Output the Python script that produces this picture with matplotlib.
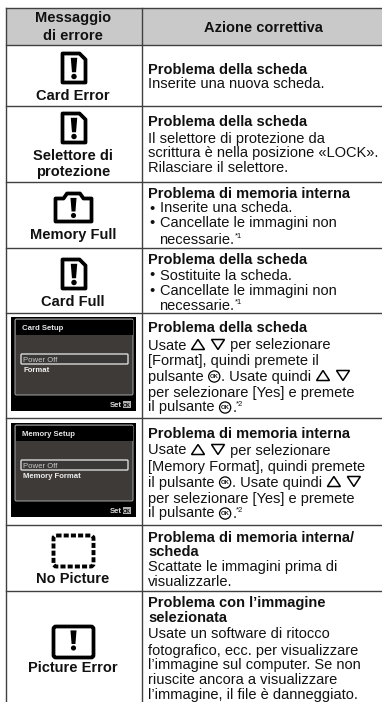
import matplotlib
matplotlib.use("Agg")
import matplotlib.pyplot as plt
from matplotlib.patches import Rectangle, FancyBboxPatch, Polygon, Circle

plt.rcParams["font.family"] = ["Liberation Sans", "DejaVu Sans"]

W, H = 382, 702
FONT = 10.5
INK = "#111111"

header_left = ["Messaggio", "di errore"]
header_right = "Azione correttiva"

left_labels = [
    ["Card Error"],
    ["Selettore di", "protezione"],
    ["Memory Full"],
    ["Card Full"],
    [],
    [],
    ["No Picture"],
    ["Picture Error"],
]
icons = ["card", "card", "memory", "card", "screen", "screen", "dashed", "picture"]
screen_titles = {4: "Card Setup", 5: "Memory Setup"}
screen_items = {4: "Format", 5: "Memory Format"}

# (bold?, text) - |up| |down| |ok| |s1| |s2| are inline symbols, "- " is a bullet
rows = [
    [(1, "Problema della scheda"), (0, "Inserite una nuova scheda.")],
    [(1, "Problema della scheda"), (0, "Il selettore di protezione da"),
     (0, "scrittura è nella posizione «LOCK»."), (0, "Rilasciare il selettore.")],
    [(1, "Problema di memoria interna"), (0, "- Inserite una scheda."),
     (0, "- Cancellate le immagini non"), (0, "  necessarie.|s1|")],
    [(1, "Problema della scheda"), (0, "- Sostituite la scheda."),
     (0, "- Cancellate le immagini non"), (0, "  necessarie.|s1|")],
    [(1, "Problema della scheda"), (0, "Usate |up||down| per selezionare"),
     (0, "[Format], quindi premete il"), (0, "pulsante |ok|. Usate quindi |up||down|"),
     (0, "per selezionare [Yes] e premete"), (0, "il pulsante |ok|.|s2|")],
    [(1, "Problema di memoria interna"), (0, "Usate |up||down| per selezionare"),
     (0, "[Memory Format], quindi premete"), (0, "il pulsante |ok|. Usate quindi |up||down|"),
     (0, "per selezionare [Yes] e premete"), (0, "il pulsante |ok|.|s2|")],
    [(1, "Problema di memoria interna/"), (1, "scheda"),
     (0, "Scattate le immagini prima di"), (0, "visualizzarle.")],
    [(1, "Problema con l’immagine"), (1, "selezionata"),
     (0, "Usate un software di ritocco"), (0, "fotografico, ecc. per visualizzare"),
     (0, "l’immagine sul computer. Se non"), (0, "riuscite ancora a visualizzare"),
     (0, "l’immagine, il file è danneggiato.")],
]

# layout, in image pixels
row_lines = [45, 106, 182, 248, 313, 418, 525, 591]
line_y = [
    [69, 84],
    [122, 138, 153, 168],
    [193, 208, 223, 239],
    [259, 275, 290, 305],
    [328, 345, 361, 376, 392, 407],
    [434, 450, 466, 482, 498, 513],
    [537, 552, 567, 582],
    [602, 617, 634, 650, 665, 680, 695],
]
icon_y = [68, 128, 207.5, 274, 364, 470, 551, 642]
label_y = [[95], [155, 171], [234], [301], [], [], [578], [667]]

fig = plt.figure(figsize=(W / 100, H / 100), dpi=100)
ax = fig.add_axes([0, 0, 1, 1])
ax.set_xlim(0, W)
ax.set_ylim(H, 0)
ax.axis("off")

LW = 2.7


def bang(cx, cy, s):
    ax.add_patch(Polygon([(cx - 3.8 * s, cy - 12 * s), (cx + 3.8 * s, cy - 12 * s),
                          (cx + 2.4 * s, cy + 5 * s), (cx - 2.4 * s, cy + 5 * s)],
                         closed=True, fc="black", ec="none"))
    ax.add_patch(Circle((cx, cy + 10 * s), 3.2 * s, fc="black", ec="none"))


def card(cx, cy):
    x0, x1, y0, y1 = cx - 11.5, cx + 11.5, cy - 14.5, cy + 14.5
    ax.add_patch(Polygon([(x0, y0), (x1 - 6, y0), (x1, y0 + 6), (x1, y1), (x0, y1)],
                         closed=True, fill=False, ec="black", lw=LW, joinstyle="round"))
    bang(cx, cy, 0.85)


def memory(cx, cy):
    pts = [(cx - 18, cy + 14), (cx - 18, cy - 9), (cx - 10, cy - 9), (cx - 6.5, cy - 14),
           (cx + 6.5, cy - 14), (cx + 10, cy - 9), (cx + 18, cy - 9), (cx + 18, cy + 14)]
    ax.add_patch(Polygon(pts, closed=True, fill=False, ec="black", lw=LW, joinstyle="round"))
    bang(cx, cy, 0.8)


def dashed(cx, cy):
    ax.add_patch(FancyBboxPatch((cx - 20, cy - 15.5), 40, 31, boxstyle="round,pad=0,rounding_size=3",
                                fill=False, ec="black", lw=2.8, ls=(0, (1.3, 0.55))))


def picture(cx, cy):
    ax.add_patch(FancyBboxPatch((cx - 20, cy - 15.5), 40, 31, boxstyle="round,pad=0,rounding_size=2.5",
                                fill=False, ec="black", lw=LW))
    bang(cx, cy - 2, 0.8)


def screen(i, cy):
    x0, x1, y0, y1 = 11, 136, cy - 47, cy + 47
    ax.add_patch(Rectangle((x0, y0), x1 - x0, y1 - y0, fc="black", ec="none"))
    ax.add_patch(FancyBboxPatch((15, y0 + 2), 118, 76, boxstyle="round,pad=0,rounding_size=1.5",
                                fc="#3e3a38", ec="#a8a8a8", lw=0.7))
    ax.add_patch(Rectangle((15.5, y0 + 2.5), 117, 15, fc="black", ec="none"))
    ax.add_patch(FancyBboxPatch((21, y0 + 37), 107, 10, boxstyle="round,pad=0,rounding_size=1",
                                fc="#3a3836", ec="#d8d8d8", lw=1.0))
    ax.text(22, y0 + 13, screen_titles[i], color="#e6e6e6", fontsize=5.6, fontweight="bold")
    ax.text(23, y0 + 44.5, "Power Off", color="#c8c8c8", fontsize=5.6)
    ax.text(23, y0 + 55.5, screen_items[i], color="#eeeeee", fontsize=5.6, fontweight="bold")
    ax.text(110, y0 + 90, "Set", color="#d8d8d8", fontsize=5.6, fontweight="bold")
    ax.add_patch(Rectangle((123, y0 + 84), 8, 6.5, fc="#b0b0b0", ec="none"))
    ax.text(127, y0 + 89.6, "OK", color="black", fontsize=3.8, ha="center", fontweight="bold")


def draw_line(x, y, text, bold):
    # lay the line out token by token, measuring each text piece
    renderer = fig.canvas.get_renderer()
    base = y + 4.5
    weight = "bold" if bold else "normal"
    if text.startswith("- "):
        ax.text(x + 1, base, "•", fontsize=FONT, color=INK, va="baseline")
        x += 11.5
        text = text[2:]
    elif text.startswith("  "):
        x += 11.5
        text = text[2:]
    parts = text.split("|")
    for n, part in enumerate(parts):
        if n % 2 == 0:
            if part:
                t = ax.text(x, base, part, fontsize=FONT, fontweight=weight, color=INK, va="baseline")
                x += t.get_window_extent(renderer).width
        elif part == "up":
            ax.add_patch(Polygon([(x + 1, base), (x + 14, base), (x + 7.5, base - 10)], closed=True,
                                 fill=False, ec="black", lw=1.1))
            x += 20
        elif part == "down":
            ax.add_patch(Polygon([(x + 1, base - 10), (x + 14, base - 10), (x + 7.5, base)], closed=True,
                                 fill=False, ec="black", lw=1.1))
            x += 15
        elif part == "ok":
            ax.add_patch(Circle((x + 6.5, base - 4), 5.6, fill=False, ec="black", lw=0.9))
            ax.text(x + 6.5, base - 2.4, "OK", fontsize=4.2, fontweight="bold", ha="center", color=INK)
            x += 13.5
        else:
            ax.text(x, base - 5, "*" + part[1], fontsize=5.5, color=INK, va="baseline")


# header band
ax.add_patch(Rectangle((5.5, 7.5), W, 37.5, fc="#c9c9c9", ec="none"))
for i, s in enumerate(header_left):
    ax.text(73, [22, 40][i], s, fontsize=FONT, fontweight="bold", ha="center", va="baseline", color=INK)
ax.text(263, 32, header_right, fontsize=FONT, fontweight="bold", ha="center", va="baseline", color=INK)

for i, kind in enumerate(icons):
    cy = icon_y[i]
    if kind == "card":
        card(74, cy)
    elif kind == "memory":
        memory(73.5, cy)
    elif kind == "dashed":
        dashed(73.5, cy)
    elif kind == "picture":
        picture(73.5, cy)
    else:
        screen(i, cy)
    for s, y in zip(left_labels[i], label_y[i]):
        ax.text(73, y + 5, s, fontsize=FONT, fontweight="bold", ha="center", va="baseline", color=INK)
    for (bold, s), y in zip(rows[i], line_y[i]):
        draw_line(148, y, s, bold)

# rules
ax.plot([5.5, W], [7.5, 7.5], color="#404040", lw=1.0)
ax.plot([5.5, 5.5], [7.5, H], color="#404040", lw=1.0)
ax.plot([141.5, 141.5], [7.5, H], color="#404040", lw=1.0)
for y in row_lines:
    ax.plot([5.5, W], [y, y], color="#404040", lw=1.0)

fig.savefig("out.png", dpi=100)
